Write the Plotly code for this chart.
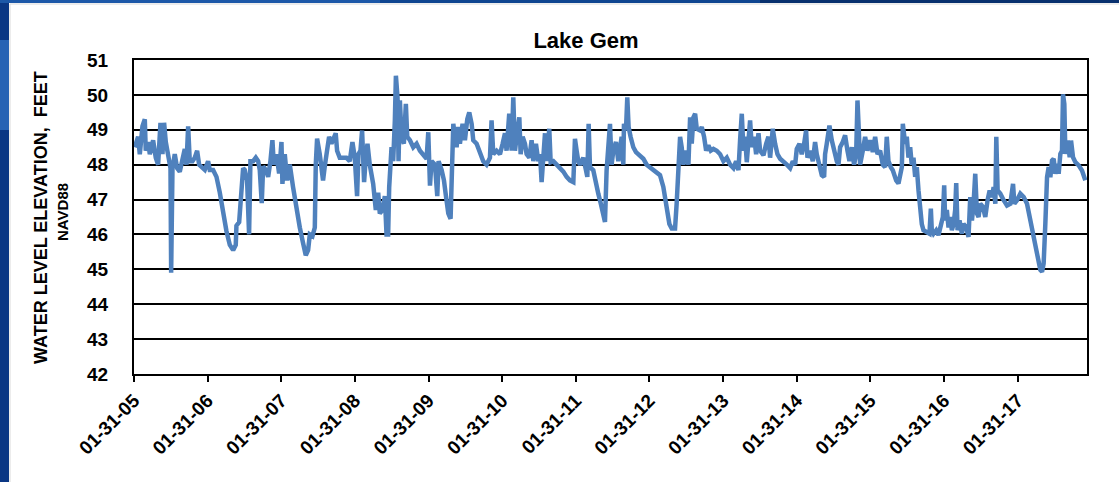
import plotly.graph_objects as go
import pandas as pd

# ---- data (decimal year, water level ft NAVD88) ----
years = [
    2005.093, 2005.138, 2005.161, 2005.197, 2005.229, 2005.242, 2005.274, 2005.297, 2005.342, 2005.378,
    2005.410, 2005.442, 2005.469, 2005.491, 2005.514, 2005.546, 2005.578, 2005.587, 2005.605, 2005.636,
    2005.668, 2005.704, 2005.741, 2005.772, 2005.795, 2005.818, 2005.840, 2005.876, 2005.908, 2005.940,
    2005.967, 2006.012, 2006.044, 2006.089, 2006.112, 2006.157, 2006.203, 2006.248, 2006.293, 2006.338,
    2006.384, 2006.429, 2006.465, 2006.474, 2006.511, 2006.542, 2006.565, 2006.587, 2006.619, 2006.646,
    2006.664, 2006.701, 2006.737, 2006.769, 2006.791, 2006.818, 2006.837, 2006.873, 2006.905, 2006.936,
    2006.963, 2006.982, 2007.018, 2007.054, 2007.086, 2007.099, 2007.131, 2007.163, 2007.199, 2007.244,
    2007.289, 2007.335, 2007.380, 2007.416, 2007.448, 2007.471, 2007.507, 2007.539, 2007.552, 2007.570,
    2007.606, 2007.629, 2007.651, 2007.674, 2007.697, 2007.733, 2007.765, 2007.796, 2007.823, 2007.842,
    2007.878, 2007.923, 2007.968, 2008.014, 2008.050, 2008.082, 2008.113, 2008.131, 2008.159, 2008.181,
    2008.195, 2008.208, 2008.231, 2008.254, 2008.285, 2008.331, 2008.367, 2008.399, 2008.421, 2008.457,
    2008.489, 2008.512, 2008.534, 2008.548, 2008.580, 2008.602, 2008.625, 2008.639, 2008.661, 2008.675,
    2008.693, 2008.716, 2008.747, 2008.774, 2008.793, 2008.829, 2008.874, 2008.919, 2008.965, 2009.010,
    2009.055, 2009.078, 2009.101, 2009.123, 2009.169, 2009.200, 2009.218, 2009.259, 2009.291, 2009.318,
    2009.350, 2009.381, 2009.395, 2009.418, 2009.440, 2009.463, 2009.486, 2009.508, 2009.544, 2009.576,
    2009.608, 2009.635, 2009.667, 2009.689, 2009.735, 2009.780, 2009.825, 2009.870, 2009.916, 2009.938,
    2009.961, 2010.006, 2010.052, 2010.088, 2010.120, 2010.142, 2010.178,
    2010.188, 2010.211, 2010.233, 2010.256, 2010.279, 2010.315, 2010.333, 2010.360, 2010.392, 2010.414,
    2010.451, 2010.482, 2010.505, 2010.541, 2010.573, 2010.596, 2010.618, 2010.641, 2010.664, 2010.686,
    2010.722, 2010.741, 2010.777, 2010.822, 2010.867, 2010.913, 2010.958, 2011.003, 2011.049, 2011.071,
    2011.094, 2011.116, 2011.139, 2011.184, 2011.221, 2011.239, 2011.257, 2011.275, 2011.320, 2011.356,
    2011.388, 2011.420, 2011.447, 2011.479, 2011.501, 2011.524, 2011.547, 2011.569, 2011.592, 2011.628,
    2011.660, 2011.705, 2011.728, 2011.737, 2011.764, 2011.782, 2011.800, 2011.827, 2011.864, 2011.900,
    2011.954, 2012.000, 2012.045, 2012.090, 2012.136, 2012.181, 2012.226, 2012.271, 2012.317, 2012.353,
    2012.385, 2012.430, 2012.452, 2012.475, 2012.498, 2012.520, 2012.543, 2012.579, 2012.611, 2012.634,
    2012.656, 2012.679, 2012.702, 2012.724,
    2012.769, 2012.792, 2012.823, 2012.851, 2012.882, 2012.914, 2012.950, 2012.995, 2013.041, 2013.086,
    2013.131, 2013.177, 2013.222, 2013.258, 2013.290, 2013.312, 2013.335, 2013.358, 2013.380, 2013.403,
    2013.426, 2013.448, 2013.471, 2013.503, 2013.530, 2013.562, 2013.584, 2013.630, 2013.666, 2013.697,
    2013.720, 2013.756, 2013.788, 2013.820, 2013.856, 2013.901, 2013.947, 2013.992, 2014.028, 2014.060,
    2014.082, 2014.119, 2014.150, 2014.182, 2014.209, 2014.227, 2014.264, 2014.300, 2014.331, 2014.354,
    2014.390, 2014.422, 2014.454, 2014.467, 2014.490, 2014.526, 2014.558, 2014.590, 2014.626, 2014.649,
    2014.671, 2014.707, 2014.739, 2014.771, 2014.798, 2014.830, 2014.861, 2014.889, 2014.907, 2014.925,
    2014.943, 2014.979, 2015.011, 2015.043, 2015.079, 2015.115, 2015.147, 2015.179, 2015.215, 2015.251,
    2015.283, 2015.305, 2015.328, 2015.360, 2015.387,
    2015.433, 2015.464, 2015.510, 2015.523, 2015.555, 2015.577, 2015.600, 2015.623, 2015.645, 2015.668,
    2015.691, 2015.713, 2015.736, 2015.759, 2015.781, 2015.804, 2015.849, 2015.885, 2015.904, 2015.917,
    2015.940, 2015.976, 2016.008, 2016.039, 2016.067, 2016.085, 2016.098, 2016.121, 2016.144, 2016.166,
    2016.189, 2016.212, 2016.234, 2016.248, 2016.266, 2016.293, 2016.325, 2016.347, 2016.384, 2016.415,
    2016.438, 2016.461, 2016.483, 2016.506, 2016.529, 2016.551, 2016.574, 2016.610, 2016.642, 2016.673,
    2016.701, 2016.732, 2016.755, 2016.778, 2016.791, 2016.809, 2016.845, 2016.891, 2016.936, 2016.981,
    2017.018, 2017.036, 2017.072, 2017.117, 2017.163, 2017.208, 2017.253, 2017.299, 2017.344, 2017.389,
    2017.412, 2017.434, 2017.457, 2017.480, 2017.502, 2017.525, 2017.548, 2017.570, 2017.593, 2017.616,
    2017.638, 2017.661, 2017.683, 2017.697, 2017.715, 2017.729, 2017.760, 2017.788, 2017.806, 2017.833,
    2017.865, 2017.910, 2017.955, 2018.000,
]

levels = [
    48.5, 48.8, 48.3, 49.1, 49.3, 48.4, 48.65, 48.3, 48.7, 48.2,
    48.0, 49.2, 48.3, 49.2, 48.65, 48.2, 47.9, 44.9, 47.9, 48.3,
    47.9, 47.8, 48.1, 48.45, 48.0, 49.1, 48.1, 48.1, 48.2, 48.4,
    48.0, 47.9, 47.85, 48.1, 47.85, 47.85, 47.65, 47.2, 46.6, 46.1,
    45.7, 45.55, 45.7, 46.25, 46.35, 47.2, 47.9, 47.85, 47.55, 46.0,
    48.1, 48.1, 48.2, 48.1, 47.85, 46.9, 47.95, 47.85, 47.65, 48.1,
    48.7, 48.0, 48.3, 47.75, 48.65, 47.45, 48.3, 47.55, 48.0, 47.35,
    46.7, 46.2, 45.75, 45.4, 45.55, 46.0, 45.95, 46.2, 48.0, 48.75,
    48.3, 47.85, 47.55, 47.95, 48.3, 48.8, 48.6, 48.8, 48.9, 48.4,
    48.2, 48.2, 48.2, 48.1, 48.65, 48.2, 47.1, 48.3, 48.4, 48.98,
    48.2, 47.5, 48.2, 48.6, 48.0, 47.45, 46.7, 47.2, 46.6, 46.7,
    47.1, 46.0, 46.0, 47.35, 48.5, 48.1, 49.27, 50.55, 49.93, 48.1,
    49.84, 48.8, 48.6, 49.74, 48.8, 48.7, 48.5, 48.6, 48.4, 48.3,
    48.17, 48.93, 47.4, 48.1, 48.0, 47.1, 48.1, 47.85, 47.55, 47.1,
    46.6, 46.45, 47.75, 49.17, 48.8, 48.5, 49.08, 48.6, 49.17, 48.7,
    49.3, 49.5, 49.17, 48.7, 48.6, 48.3, 48.1, 48.0, 48.2, 49.27,
    48.3, 48.4, 48.3, 48.6, 48.9, 48.4, 49.46,
    49.08, 48.4, 49.93, 48.4, 48.8, 49.36, 48.3, 48.8, 48.6, 48.3,
    48.2, 48.7, 48.1, 48.6, 48.1, 48.3, 47.5, 48.3, 48.9, 48.1,
    49.03, 48.07, 48.1, 48.0, 47.9, 47.8, 47.65, 47.55, 47.5, 48.74,
    48.4, 48.1, 48.0, 48.2, 47.84, 47.65, 49.17, 47.93, 47.84, 47.55,
    47.17, 46.9, 46.6, 46.36, 47.84, 48.8, 49.17, 48.0, 48.4, 48.65,
    48.1, 48.8, 48.0, 49.17, 48.98, 49.93, 49.08, 48.8, 48.5, 48.36,
    48.27, 48.17, 48.0, 47.93, 47.84, 47.8, 47.7, 47.36, 46.8, 46.3,
    46.17, 46.17, 46.9, 48.0, 48.8, 48.5, 48.0, 48.4, 48.0, 49.36,
    48.6, 49.36, 49.46, 49.03,
    48.98, 49.08, 48.8, 48.4, 48.55, 48.4, 48.45, 48.4, 48.3, 48.1,
    48.2, 48.0, 47.9, 48.1, 47.84, 48.7, 49.46, 48.4, 48.8, 48.07,
    48.6, 49.27, 48.5, 48.8, 48.3, 48.9, 48.4, 48.27, 48.6, 48.8,
    48.2, 49.03, 48.6, 48.3, 48.17, 48.1, 48.0, 47.9, 48.1, 48.0,
    48.45, 48.6, 48.3, 48.6, 48.98, 48.2, 48.4, 48.1, 48.65, 48.3,
    47.93, 47.7, 47.65, 48.3, 48.6, 49.12, 48.7, 48.4, 48.1, 48.0,
    48.5, 48.65, 48.84, 48.4, 48.1, 48.5, 48.0, 48.3, 49.84, 48.98,
    48.0, 48.4, 48.8, 48.4, 48.7, 48.36, 48.8, 48.3, 48.4, 48.0,
    47.93, 48.8, 48.1, 47.93, 47.84,
    47.55, 47.46, 47.93, 49.17, 48.6, 48.8, 48.2, 48.5, 48.0, 48.2,
    47.65, 47.93, 47.27, 46.7, 46.3, 46.12, 46.07, 46.02, 46.74, 46.12,
    46.02, 46.12, 45.98, 46.2, 46.5, 47.41, 46.4, 46.7, 46.2, 46.5,
    46.12, 46.3, 46.7, 47.47, 46.12, 46.4, 46.02, 46.3, 46.2, 45.93,
    47.07, 46.4, 46.88, 47.74, 46.6, 46.5, 46.88, 46.79, 46.5, 46.98,
    47.26, 47.07, 47.36, 46.88, 48.8, 47.26, 47.17, 46.98, 46.83, 46.88,
    47.45, 46.88, 46.98, 47.17, 47.07, 46.88, 46.4, 45.93, 45.45, 44.98,
    44.93, 45.17, 46.31, 47.64, 47.93, 47.64, 48.12, 48.17, 47.74, 48.02,
    47.74, 48.31, 48.4, 50.02, 49.74, 48.31, 48.69, 48.21, 48.69, 48.21,
    48.07, 47.98, 47.83, 47.55,
]

tick_dates = ["2005-01-31", "2006-01-31", "2007-01-31", "2008-01-31", "2009-01-31",
              "2010-01-31", "2011-01-31", "2012-01-31", "2013-01-31", "2014-01-31",
              "2015-01-31", "2016-01-31", "2017-01-31"]
tick_labels = ["01-31-05", "01-31-06", "01-31-07", "01-31-08", "01-31-09",
               "01-31-10", "01-31-11", "01-31-12", "01-31-13", "01-31-14",
               "01-31-15", "01-31-16", "01-31-17"]
y_ticks = [42, 43, 44, 45, 46, 47, 48, 49, 50, 51]


def to_date(y):
    yr = int(y)
    start = pd.Timestamp(year=yr, month=1, day=1)
    end = pd.Timestamp(year=yr + 1, month=1, day=1)
    return start + (end - start) * (y - yr)


dates = [to_date(y) for y in years]

FONT = "Arial, Liberation Sans, sans-serif"

fig = go.Figure()
fig.add_trace(go.Scatter(
    x=dates, y=levels, mode="lines",
    line=dict(color="#4F81BD", width=4.5),
    showlegend=False, hoverinfo="x+y",
))

# geometry helpers (plot area in px)
L, R, T, B = 134, 1087, 60, 374
W, H = 1119, 482
def px(xp):
    return (xp - L) / (R - L)
def py(yp):
    return (B - yp) / (B - T)

shapes = [
    # left blue frame
    dict(type="rect", xref="paper", yref="paper", x0=px(0), x1=px(9), y0=py(H), y1=py(0),
         fillcolor="#0a3784", line=dict(width=0), layer="below"),
    dict(type="rect", xref="paper", yref="paper", x0=px(0), x1=px(9), y0=py(130), y1=py(40),
         fillcolor="#2763b4", line=dict(width=0), layer="below"),
    # top blue frame
    dict(type="rect", xref="paper", yref="paper", x0=px(0), x1=px(380), y0=py(3), y1=py(0),
         fillcolor="#1c58a8", line=dict(width=0), layer="below"),
    dict(type="rect", xref="paper", yref="paper", x0=px(380), x1=px(760), y0=py(3), y1=py(0),
         fillcolor="#0f4590", line=dict(width=0), layer="below"),
    dict(type="rect", xref="paper", yref="paper", x0=px(760), x1=px(W), y0=py(3), y1=py(0),
         fillcolor="#08306e", line=dict(width=0), layer="below"),
    # thin grey slide border
    dict(type="line", xref="paper", yref="paper", x0=px(10), x1=px(10), y0=py(H), y1=py(4),
         line=dict(color="#d9d9d9", width=1), layer="below"),
    dict(type="line", xref="paper", yref="paper", x0=px(10), x1=px(W), y0=py(4), y1=py(4),
         line=dict(color="#d9d9d9", width=1), layer="below"),
]

annotations = [
    dict(text="<b>WATER LEVEL ELEVATION,  FEET</b>", xref="paper", yref="paper",
         x=px(41), y=py(218), xanchor="center", yanchor="middle", textangle=-90,
         showarrow=False, font=dict(family=FONT, size=18, color="black")),
    dict(text="<b>NAVD88</b>", xref="paper", yref="paper",
         x=px(62), y=py(212), xanchor="center", yanchor="middle", textangle=-90,
         showarrow=False, font=dict(family=FONT, size=15, color="black")),
]

fig.update_layout(
    width=W, height=H,
    margin=dict(l=L, r=W - R, t=T, b=H - B, pad=0),
    paper_bgcolor="white", plot_bgcolor="white",
    title=dict(text="<b>Lake Gem</b>", x=px(586), xref="paper", xanchor="center",
               y=1 - 40 / H, yref="container", yanchor="middle",
               font=dict(family=FONT, size=22, color="black")),
    shapes=shapes, annotations=annotations,
)

fig.update_xaxes(
    type="date",
    range=[pd.Timestamp("2005-01-31"), to_date(2018.023)],
    tickmode="array", tickvals=tick_dates, ticktext=tick_labels,
    tickangle=-45,
    tickfont=dict(family=FONT, size=19, color="black", weight="bold"),
    ticks="outside", ticklen=6, tickwidth=2, tickcolor="black",
    showgrid=False, zeroline=False,
    showline=True, linecolor="black", linewidth=2, mirror=True,
)
fig.update_yaxes(
    range=[42, 51],
    tickmode="array", tickvals=y_ticks,
    tickfont=dict(family=FONT, size=19, color="black", weight="bold"),
    ticks="", ticklabelstandoff=20,
    showgrid=True, gridcolor="black", gridwidth=2,
    zeroline=False,
    showline=True, linecolor="black", linewidth=2, mirror=True,
)

fig.write_html("out.html",
               config={"displayModeBar": False},
               post_script="document.body.style.margin='0';document.body.style.overflow='hidden';")
